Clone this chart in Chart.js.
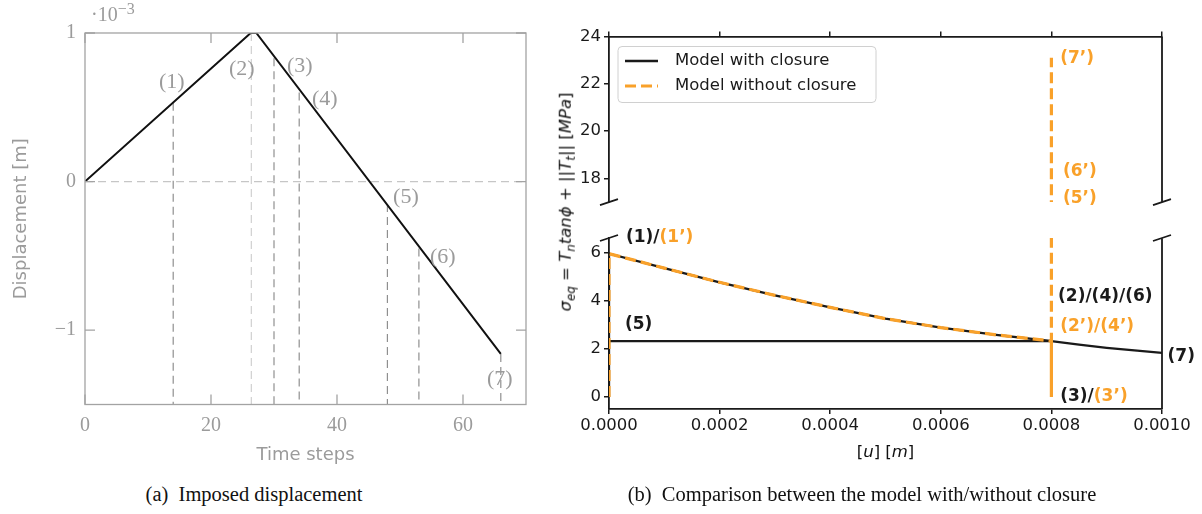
<!DOCTYPE html>
<html>
<head>
<meta charset="utf-8">
<title>Imposed displacement / closure comparison</title>
<script src="https://cdn.jsdelivr.net/npm/chart.js@4.4.1/dist/chart.umd.min.js"></script>
<style>
  html, body { margin: 0; padding: 0; background: #fff; }
  body { position: relative; width: 1202px; height: 514px; overflow: hidden; }
  canvas { position: absolute; }
  .txt { position: absolute; white-space: nowrap; line-height: 1; }
  .caption { font-family: 'Liberation Serif', serif; font-size: 20.5px; color: #111; top: 484px; transform: translateX(-50%); }
  .sub { font-size: 0.72em; position: relative; top: 0.3em; }
</style>
</head>
<body>
<canvas id="dispChart" width="545" height="475" style="left:0;top:0"></canvas>
<canvas id="upperChart" width="662" height="215" style="left:540px;top:0"></canvas>
<canvas id="lowerChart" width="662" height="260" style="left:540px;top:215px"></canvas>

<div class="txt" style="left:91px;top:4px;font-family:'Liberation Serif',serif;font-size:20px;color:#9b9b9b">·10<span style="position:relative;top:-0.45em;font-size:0.8em">−3</span></div>
<div class="txt" style="left:566px;top:202px;transform:translate(-50%,-50%) rotate(-90deg);font-family:'DejaVu Sans',sans-serif;font-size:16.5px;color:#111"><i>σ</i><i class="sub">eq</i> = <i>T</i><i class="sub">n</i><i>tanϕ</i> + ||<i>T</i><i class="sub">t</i>|| [<i>MPa</i>]</div>
<div class="txt" style="left:885.5px;top:452px;transform:translate(-50%,-50%);font-family:'DejaVu Sans',sans-serif;font-size:16.5px;color:#111">[<i>u</i>] [<i>m</i>]</div>
<div class="txt caption" style="left:254px">(a)&nbsp;&nbsp;Imposed displacement</div>
<div class="txt caption" style="left:862px">(b)&nbsp;&nbsp;Comparison between the model with/without closure</div>

<script>
const SERIF = "'Liberation Serif', serif";
const SANS = "'DejaVu Sans', sans-serif";
const GRAY = '#9b9b9b';
const INK = '#1a1a1a';
const ORANGE = '#f9a12a';

// (a) imposed displacement, values in 1e-3 m
const timeSteps = [0, 26.3, 27.2, 66];
const displacement = [0, 1, 1, -1.16];
const markSteps = [14, 26.4, 30, 34, 48, 53, 66];
const markDisp = [0.53, 1, 0.83, 0.6, -0.15, -0.45, -1.16];
const markNames = ['(1)', '(2)', '(3)', '(4)', '(5)', '(6)', '(7)'];
const stepTicks = [0, 20, 40, 60];
const dispTicks = [-1, 0, 1];

// (b) sigma_eq against plastic displacement
const closureU = [0, 0, 0.0001, 0.0002, 0.0003, 0.0004, 0.0005, 0.0006, 0.0007, 0.0008, 0.0008, 0.0008, 0, 0.0008, 0.00085, 0.0009, 0.00095, 0.001];
const closureSigma = [0, 5.95, 5.35, 4.76, 4.22, 3.72, 3.25, 2.88, 2.58, 2.32, 0, 2.32, 2.32, 2.32, 2.17, 2.04, 1.93, 1.83];
const noClosureU = [0, 0, 0.0001, 0.0002, 0.0003, 0.0004, 0.0005, 0.0006, 0.0007, 0.0008, 0.0008, 0.0008, 0.0008, 0.0008];
const noClosureSigma = [0, 5.95, 5.35, 4.76, 4.22, 3.72, 3.25, 2.88, 2.58, 2.32, 0, 17.15, 18.3, 23.1];
const uTicks = [0, 0.0002, 0.0004, 0.0006, 0.0008, 0.001];
const sigmaTicksHigh = [18, 20, 22, 24];
const sigmaTicksLow = [0, 2, 4, 6];

// label anchors (data coords, text starts here)
const dispLabelPos = [[11.75, 0.667], [22.86, 0.755], [32.06, 0.775], [36.03, 0.553], [48.9, -0.108], [54.76, -0.512], [63.8, -1.327]];
const upperMarks = [
  { x: 0.000816, y: 23.06, parts: [['(7’)', ORANGE]] },
  { x: 0.000821, y: 18.3, parts: [['(6’)', ORANGE]] },
  { x: 0.000821, y: 17.16, parts: [['(5’)', ORANGE]] }
];
const lowerMarks = [
  { x: 0.0000307, y: 6.62, parts: [['(1)/', INK], ['(1’)', ORANGE]] },
  { x: 0.0000289, y: 3.02, parts: [['(5)', INK]] },
  { x: 0.000812, y: 4.17, parts: [['(2)/(4)/(6)', INK]] },
  { x: 0.000816, y: 2.91, parts: [['(2’)/(4’)', ORANGE]] },
  { x: 0.000816, y: 0.03, parts: [['(3)/', INK], ['(3’)', ORANGE]] },
  { x: 0.00101, y: 1.69, parts: [['(7)', INK]] }
];

const pts = (xs, ys) => xs.map((v, i) => ({ x: v, y: ys[i] }));
const fixTicks = list => s => { s.ticks = list.map(v => ({ value: v })); };
const minus = v => (v < 0 ? '\u2212' + (-v) : String(v));

// text labels drawn at data positions
const textMarks = {
  id: 'textMarks',
  afterDraw(chart, args, o) {
    const { ctx, scales: { x, y } } = chart;
    ctx.save();
    ctx.font = o.font;
    ctx.textBaseline = 'middle';
    ctx.textAlign = 'left';
    o.items.forEach(it => {
      let px = x.getPixelForValue(it.x);
      const py = y.getPixelForValue(it.y);
      it.parts.forEach(p => {
        ctx.fillStyle = p[1];
        ctx.fillText(p[0], px, py);
        px += ctx.measureText(p[0]).width;
      });
    });
    ctx.restore();
  }
};

// gray box with inward ticks, like the pgf plot
const boxFrame = {
  id: 'boxFrame',
  afterDraw(chart, args, o) {
    const { ctx, chartArea: a, scales: { x, y } } = chart;
    ctx.save();
    ctx.strokeStyle = o.color;
    ctx.lineWidth = o.width;
    ctx.strokeRect(a.left, a.top, a.right - a.left, a.bottom - a.top);
    ctx.beginPath();
    x.ticks.forEach(t => {
      const p = x.getPixelForValue(t.value);
      ctx.moveTo(p, a.bottom); ctx.lineTo(p, a.bottom - o.len);
      ctx.moveTo(p, a.top); ctx.lineTo(p, a.top + o.len);
    });
    y.ticks.forEach(t => {
      const p = y.getPixelForValue(t.value);
      ctx.moveTo(a.left, p); ctx.lineTo(a.left + o.len, p);
      ctx.moveTo(a.right, p); ctx.lineTo(a.right - o.len, p);
    });
    ctx.stroke();
    ctx.restore();
  }
};

// right spine + the little diagonal cut marks of the broken axis
const brokenAxis = {
  id: 'brokenAxis',
  afterDraw(chart, args, o) {
    const { ctx, chartArea: a } = chart;
    const yb = o.edge === 'bottom' ? a.bottom : a.top;
    ctx.save();
    ctx.strokeStyle = INK;
    ctx.lineWidth = 1.8;
    ctx.beginPath();
    ctx.moveTo(a.right, a.top); ctx.lineTo(a.right, a.bottom);
    [a.left, a.right].forEach(xb => { ctx.moveTo(xb - 9, yb + 3); ctx.lineTo(xb + 9, yb - 3); });
    ctx.stroke();
    ctx.restore();
  }
};

// matplotlib-like legend box
const boxLegend = {
  id: 'boxLegend',
  afterDraw(chart, args, o) {
    const { ctx, chartArea: a } = chart;
    const x0 = a.left + 9, y0 = a.top + 10, w = 258, h = 56;
    ctx.save();
    ctx.beginPath();
    if (ctx.roundRect) ctx.roundRect(x0, y0, w, h, 4); else ctx.rect(x0, y0, w, h);
    ctx.fillStyle = 'rgba(255,255,255,0.85)';
    ctx.fill();
    ctx.strokeStyle = '#d0d0d0';
    ctx.lineWidth = 1;
    ctx.stroke();
    ctx.font = '16.5px ' + SANS;
    ctx.textBaseline = 'middle';
    chart.data.datasets.forEach((ds, i) => {
      const yy = y0 + 14.5 + i * 25;
      ctx.beginPath();
      ctx.setLineDash(ds.borderDash || []);
      ctx.strokeStyle = ds.borderColor;
      ctx.lineWidth = ds.borderWidth;
      ctx.moveTo(x0 + 7, yy); ctx.lineTo(x0 + 40, yy);
      ctx.stroke();
      ctx.setLineDash([]);
      ctx.fillStyle = INK;
      ctx.fillText(ds.label, x0 + 57, yy);
    });
    ctx.restore();
  }
};

const baseOpts = {
  responsive: false,
  animation: false,
  devicePixelRatio: 1,
  events: [],
  elements: { point: { radius: 0 }, line: { tension: 0 } }
};

// ---- (a) ----
const dispDatasets = [
  { data: timeSteps.map((t, i) => ({ x: t, y: displacement[i] })), borderColor: '#111', borderWidth: 2, order: 0 },
  { data: [{ x: 0, y: 0 }, { x: 70, y: 0 }], borderColor: '#c6c6c6', borderWidth: 1.2, borderDash: [8, 5], order: 1 }
];
markSteps.forEach((s, i) => {
  dispDatasets.push({
    data: [{ x: s, y: markDisp[i] }, { x: s, y: -1.5 }],
    borderColor: i === 1 ? '#d0d0d0' : '#8f8f8f',
    borderWidth: 1.2, borderDash: [8, 5], order: 1
  });
});

new Chart(document.getElementById('dispChart'), {
  type: 'scatter',
  data: { datasets: dispDatasets.map(d => Object.assign({ showLine: true }, d)) },
  options: Object.assign({}, baseOpts, {
    layout: { padding: { left: 0, right: 19, top: 33, bottom: 0 } },
    plugins: {
      legend: { display: false }, tooltip: { enabled: false },
      boxFrame: { color: '#a3a3a3', width: 1.3, len: 10 },
      textMarks: {
        font: '22px ' + SERIF,
        items: markNames.map((n, i) => ({ x: dispLabelPos[i][0], y: dispLabelPos[i][1], parts: [[n, GRAY]] }))
      }
    },
    scales: {
      x: {
        type: 'linear', min: 0, max: 70,
        afterBuildTicks: fixTicks(stepTicks),
        afterFit: s => { s.height = 70.5; },
        grid: { display: false, drawTicks: false },
        border: { display: false },
        ticks: { color: GRAY, padding: 9, font: { family: SERIF, size: 20 } },
        title: { display: true, text: 'Time steps', color: GRAY, font: { family: SANS, size: 18 }, padding: { top: 0, bottom: 9 } }
      },
      y: {
        type: 'linear', min: -1.5, max: 1,
        afterBuildTicks: fixTicks(dispTicks),
        afterFit: s => { s.width = 85; },
        grid: { display: false, drawTicks: false },
        border: { display: false },
        ticks: { color: GRAY, padding: 9, font: { family: SERIF, size: 20 }, callback: minus },
        title: { display: true, text: 'Displacement [m]', color: GRAY, font: { family: SANS, size: 18 }, padding: { top: 11, bottom: 0 } }
      }
    }
  }),
  plugins: [boxFrame, textMarks]
});

// ---- (b) ----
const sigmaDatasets = () => [
  { label: 'Model with closure', data: pts(closureU, closureSigma), showLine: true, borderColor: INK, borderWidth: 2.3, order: 1 },
  { label: 'Model without closure', data: pts(noClosureU, noClosureSigma), showLine: true, borderColor: ORANGE, borderWidth: 3.2, borderDash: [11, 5], order: 0 }
];

const sigmaY = (lo, hi, ticks) => ({
  type: 'linear', min: lo, max: hi,
  afterBuildTicks: fixTicks(ticks),
  afterFit: s => { s.width = 69; },
  grid: { drawOnChartArea: false, drawTicks: true, tickLength: 5, color: INK, lineWidth: 1.5 },
  border: { display: true, color: INK, width: 1.8 },
  ticks: { color: INK, padding: 3, font: { family: SANS, size: 16.5 } }
});

new Chart(document.getElementById('upperChart'), {
  type: 'scatter',
  data: { datasets: sigmaDatasets() },
  options: Object.assign({}, baseOpts, {
    layout: { padding: { left: 0, right: 40, top: 0, bottom: 7 } },
    plugins: {
      legend: { display: false }, tooltip: { enabled: false },
      brokenAxis: { edge: 'bottom' },
      textMarks: { font: 'bold 17px ' + SANS, items: upperMarks }
    },
    scales: {
      x: {
        type: 'linear', position: 'top', min: 0, max: 0.001,
        afterBuildTicks: fixTicks(uTicks),
        afterFit: s => { s.height = 36.5; },
        grid: { drawOnChartArea: false, drawTicks: true, tickLength: 5, color: INK, lineWidth: 1.5 },
        border: { display: true, color: INK, width: 1.8 },
        ticks: { display: false }
      },
      y: sigmaY(17, 24, sigmaTicksHigh)
    }
  }),
  plugins: [brokenAxis, boxLegend, textMarks]
});

new Chart(document.getElementById('lowerChart'), {
  type: 'scatter',
  data: { datasets: sigmaDatasets() },
  options: Object.assign({}, baseOpts, {
    layout: { padding: { left: 0, right: 40, top: 23, bottom: 0 } },
    plugins: {
      legend: { display: false }, tooltip: { enabled: false },
      brokenAxis: { edge: 'top' },
      textMarks: { font: 'bold 17px ' + SANS, items: lowerMarks }
    },
    scales: {
      x: {
        type: 'linear', min: 0, max: 0.001,
        afterBuildTicks: fixTicks(uTicks),
        afterFit: s => { s.height = 66; },
        grid: { drawOnChartArea: false, drawTicks: true, tickLength: 5, color: INK, lineWidth: 1.5 },
        border: { display: true, color: INK, width: 1.8 },
        ticks: { color: INK, padding: 2, font: { family: SANS, size: 16.5 }, callback: v => Number(v).toFixed(4) }
      },
      y: sigmaY(-0.5, 6.6, sigmaTicksLow)
    }
  }),
  plugins: [brokenAxis, textMarks]
});
</script>
</body>
</html>
